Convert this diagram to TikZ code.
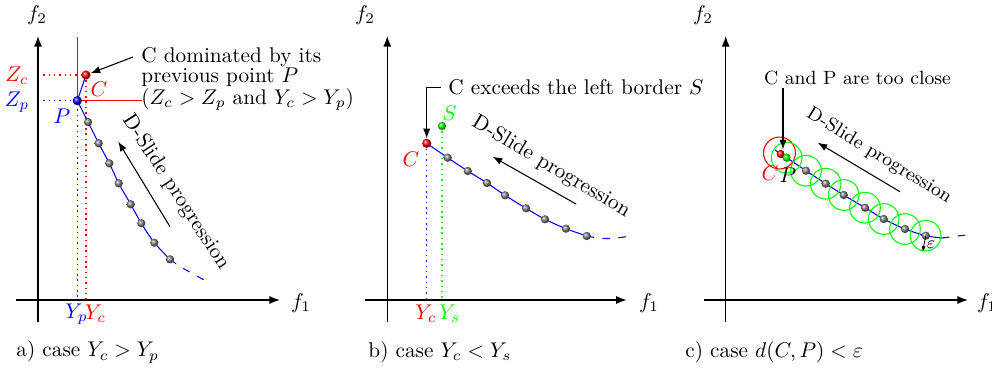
\documentclass[tikz,border=0pt]{standalone}
\usetikzlibrary{arrows.meta,shadings,backgrounds}
\begin{document}
\begin{tikzpicture}[x=0.47pt,y=-0.47pt,
  ax/.style={line width=0.6pt,-{Latex[length=5pt,width=3.8pt]}},
  ball/.style={circle,inner sep=0pt,minimum size=3.9pt,shading=ball,ball color=#1},
  bigball/.style={ball=#1,minimum size=4.3pt},
  curve/.style={blue,line width=0.5pt},
  tail/.style={blue,line width=0.5pt,dash pattern=on 3.5pt off 4pt},
  guide/.style={line width=0.7pt,dash pattern=on 0.7pt off 1.8pt},
  ann/.style={line width=0.5pt,-{Latex[length=4.5pt,width=3.4pt]}},
  epsc/.style={green,line width=0.5pt},
  lab/.style={inner sep=1pt},
  captext/.style={anchor=west,inner sep=0pt},
]
\useasboundingbox (0,0) rectangle (992,370);

%%%%%%%%%%%%%%%% panel a
\coordinate (a-x0) at (16,300); \coordinate (a-x1) at (280,300);
\coordinate (a-y0) at (38,322); \coordinate (a-y1) at (38,36);
\draw[ax] (a-x0) -- (a-x1);
\draw[ax] (a-y0) -- (a-y1);
\node (a-f1) at (301,303) {$f_1$};
\node (a-f2) at (37,15) {$f_2$};

\node[bigball=blue] (a-P) at (77.3,100.7) {};
\node[bigball=red] (a-C) at (86,75) {};
\node[ball=gray] (a-1) at (88,122) {};
\node[ball=gray] (a-2) at (98.7,143.3) {};
\node[ball=gray] (a-3) at (109.3,163.3) {};
\node[ball=gray] (a-4) at (118.7,183.3) {};
\node[ball=gray] (a-5) at (130.7,204.3) {};
\node[ball=gray] (a-6) at (141.3,223.3) {};
\node[ball=gray] (a-7) at (154.3,242.7) {};
\node[ball=gray] (a-8) at (170,259.3) {};
\coordinate (a-t) at (204,280);
\coordinate (a-rt) at (77.3,37); \coordinate (a-rr) at (142,100.7);
\coordinate (a-zc) at (38,75); \coordinate (a-yc) at (86,300);
\coordinate (a-zp) at (38,100.7); \coordinate (a-yp) at (77.3,300);

\begin{pgfonlayer}{background}
\draw[red,line width=0.6pt] (a-rt) -- (a-P.center) -- (a-rr);
\draw[guide,red] (a-zc) -- (a-C.center) -- (a-yc);
\draw[guide,blue] (a-zp) -- (a-P.center) -- (a-yp);
\draw[curve] (a-C.center) -- (a-P.center);
\draw[curve] plot[smooth] coordinates {(a-P.center) (a-1.center) (a-2.center) (a-3.center) (a-4.center) (a-5.center) (a-6.center) (a-7.center) (a-8.center)};
\draw[tail] (a-8.center) to[out=-38,in=150] (a-t);
\end{pgfonlayer}

\node[lab,red] (a-Zc) at (17,76) {$Z_c$};
\node[lab,blue] (a-Zp) at (17,102) {$Z_p$};
\node[lab,blue] (a-Pl) at (62,116) {$P$};
\node[lab,red] (a-Cl) at (99,89) {$C$};
\node[lab,blue] (a-Yp) at (76.5,314) {$Y_p$};
\node[lab,red] (a-Yc) at (95.5,314) {$Y_c$};

\node[anchor=north west,inner sep=0pt,align=left,font=\linespread{0.77}\selectfont] (a-ann) at (141,47)
  {C dominated by its\\previous point $P$\\$(Z_c > Z_p$ and $Y_c > Y_p)$};
\coordinate (a-as) at (133,57);
\draw[ann] (a-as) -- (a-C);

\coordinate (a-ds) at (170,226.7); \coordinate (a-de) at (118.3,141.7);
\draw[ann] (a-ds) -- (a-de);
\node[rotate=-57] (a-dt) at (176,192) {D-Slide progression};

\node[captext] (a-cap) at (16,352) {a) case $Y_c > Y_p$};

%%%%%%%%%%%%%%%% panel b
\coordinate (b-x0) at (365,300); \coordinate (b-x1) at (626.7,300);
\coordinate (b-y0) at (387.3,322); \coordinate (b-y1) at (387.3,36);
\draw[ax] (b-x0) -- (b-x1);
\draw[ax] (b-y0) -- (b-y1);
\node (b-f1) at (649,303) {$f_1$};
\node (b-f2) at (365,15) {$f_2$};

\node[bigball=red] (b-C) at (426.7,143.3) {};
\node[ball=green] (b-S) at (442,126) {};
\node[ball=gray] (b-1) at (447.7,157.7) {};
\node[ball=gray] (b-2) at (467.7,171) {};
\node[ball=gray] (b-3) at (487,183) {};
\node[ball=gray] (b-4) at (505,195.3) {};
\node[ball=gray] (b-5) at (526,208.3) {};
\node[ball=gray] (b-6) at (545,219.3) {};
\node[ball=gray] (b-7) at (566,228.7) {};
\node[ball=gray] (b-8) at (586.7,236) {};
\coordinate (b-t) at (627,236.5);
\coordinate (b-yc) at (426.7,300); \coordinate (b-ys) at (442,300);

\begin{pgfonlayer}{background}
\draw[guide,blue] (b-C.center) -- (b-yc);
\draw[guide,green] (b-S.center) -- (b-ys);
\draw[curve] plot[smooth] coordinates {(b-C.center) (b-1.center) (b-2.center) (b-3.center) (b-4.center) (b-5.center) (b-6.center) (b-7.center) (b-8.center)};
\draw[tail] (b-8.center) to[out=-12,in=190] (b-t);
\end{pgfonlayer}

\node[lab,red] (b-Cl) at (411,159) {$C$};
\node[lab,green] (b-Sl) at (449.5,113) {$S$};
\node[lab,red] (b-Yc) at (426,314) {$Y_c$};
\node[lab,green] (b-Ys) at (449.5,314) {$Y_s$};

\node[anchor=base west,inner sep=3.3pt] (b-ann) at (441,95) {C exceeds the left border $S$};
\draw[ann] (b-ann.west) -| (b-C.north);

\coordinate (b-ds) at (576,204); \coordinate (b-de) at (492.7,156.7);
\draw[ann] (b-ds) -- (b-de);
\node[rotate=-30.5] (b-dt) at (551,167) {D-Slide progression};

\node[captext] (b-cap) at (368,352) {b) case $Y_c < Y_s$};

%%%%%%%%%%%%%%%% panel c
\coordinate (c-x0) at (704,300); \coordinate (c-x1) at (968,300);
\coordinate (c-y0) at (725.7,322); \coordinate (c-y1) at (725.7,36);
\draw[ax] (c-x0) -- (c-x1);
\draw[ax] (c-y0) -- (c-y1);
\node (c-f1) at (987,303) {$f_1$};
\node (c-f2) at (703,15) {$f_2$};

\node[ball=red] (c-C) at (780.7,154) {};
\node[ball=green] (c-P) at (786.7,157.7) {};
\node[ball=gray] (c-1) at (806,170.7) {};
\node[ball=gray] (c-2) at (825.7,183.7) {};
\node[ball=gray] (c-3) at (843.7,195) {};
\node[ball=gray] (c-4) at (865,207.7) {};
\node[ball=gray] (c-5) at (883.7,219) {};
\node[ball=gray] (c-6) at (905,229) {};
\node[ball=gray] (c-7) at (925.7,235.7) {};
\coordinate (c-s) at (775,150);
\coordinate (c-e) at (942,238);
\coordinate (c-t) at (966,235);

\begin{pgfonlayer}{background}
\draw[curve] plot[smooth] coordinates {(c-s) (c-C.center) (c-P.center) (c-1.center) (c-2.center) (c-3.center) (c-4.center) (c-5.center) (c-6.center) (c-7.center) (c-e)};
\draw[tail] (c-e) -- (c-t);
\end{pgfonlayer}
\draw[red,line width=0.5pt] (779.5,153) circle[radius=7.5pt];
\foreach \n in {P,1,2,3,4,5,6,7} \draw[epsc] (c-\n.center) circle[radius=7.2pt];

\node[lab,red] (c-Cl) at (770,173.5) {$C$};
\node[lab] (c-Pl) at (788,175) {$P$};
\coordinate (c-eps) at (922.7,251.7);
\draw[line width=0.4pt,-{Latex[length=2.6pt,width=2pt]}] (c-7.center) -- (c-eps);
\node[lab,font=\footnotesize] (c-el) at (931,244.5) {$\varepsilon$};

\node[font=\small] (c-ann) at (857.5,78) {C and P are too close};
\coordinate (c-as) at (783,88);
\draw[ann] (c-as) -- (c-as |- c-C.north);

\coordinate (c-ds) at (900,191.7); \coordinate (c-de) at (817.7,142.7);
\draw[ann] (c-ds) -- (c-de);
\node[rotate=-31.5,font=\small] (c-dt) at (879,156) {D-Slide progression};

\node[captext] (c-cap) at (685,352) {c) case $d(C,P) < \varepsilon$};
\end{tikzpicture}
\end{document}
